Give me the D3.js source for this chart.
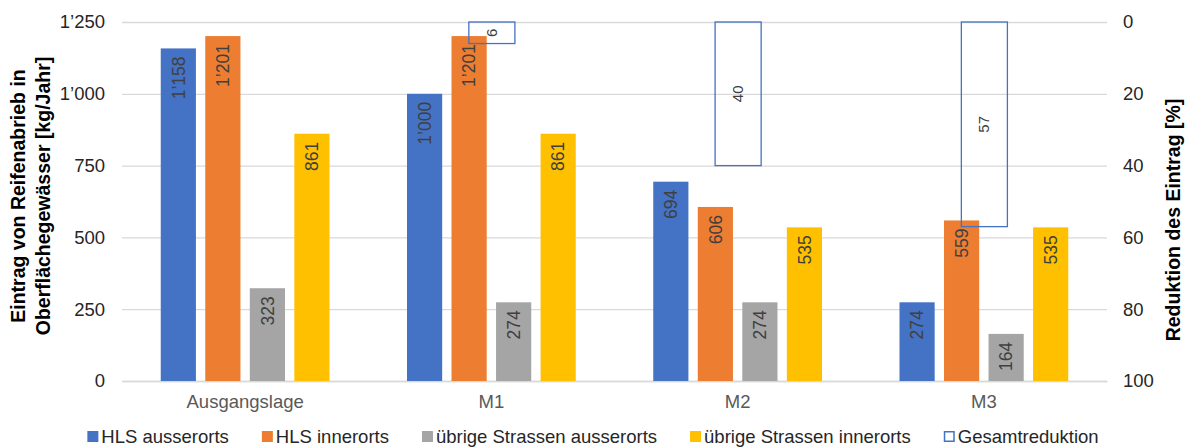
<!DOCTYPE html>
<html>
<head>
<meta charset="utf-8">
<script src="https://cdn.jsdelivr.net/npm/d3@7"></script>
<style>
  html, body { margin: 0; padding: 0; background: #fff; }
  svg { display: block; font-family: Arial, "Liberation Sans", sans-serif; }
</style>
</head>
<body>
<svg id="chart" width="1186" height="447"></svg>
<script>
// Massnahmen / scenarios
const categories = ["Ausgangslage", "M1", "M2", "M3"];
// Road categories (bar series)
const seriesNames = ["HLS ausserorts", "HLS innerorts", "übrige Strassen ausserorts", "übrige Strassen innerorts"];
const hlsAusserorts = [1158, 1000, 694, 274];
const hlsInnerorts = [1201, 1201, 606, 559];
const uebrigeAusserorts = [323, 274, 274, 164];
const uebrigeInnerorts = [861, 861, 535, 535];
// Total reduction in percent (right axis), none for the baseline
const gesamtreduktion = [null, 6, 40, 57];
const reductionLabel = "Gesamtreduktion";
// Axis ticks
const leftTicks = [0, 250, 500, 750, 1000, 1250];
const rightTicks = [0, 20, 40, 60, 80, 100];

const seriesValues = [hlsAusserorts, hlsInnerorts, uebrigeAusserorts, uebrigeInnerorts];
const colors = ["#4472C4", "#ED7D31", "#A5A5A5", "#FFC000"];
const reductionColor = "#4472C4";

const svg = d3.select("#chart");
const plot = { left: 122, right: 1107, top: 22, bottom: 381 };

const swiss = d3.formatLocale({ decimal: ".", thousands: "’", grouping: [3], currency: ["", ""] });
const fmt = swiss.format(",d");

const x0 = d3.scaleBand().domain(categories).range([plot.left, plot.right]).paddingInner(0).paddingOuter(0);
const x1 = d3.scaleBand().domain(d3.range(seriesNames.length)).range([0, x0.bandwidth()])
  .paddingInner(0.21).paddingOuter(0.87);
const xR = d3.scaleBand().domain(categories).range([plot.left, plot.right])
  .paddingInner(0.813).paddingOuter(0.4065);
const yL = d3.scaleLinear().domain([0, 1250]).range([plot.bottom, plot.top]);
const yR = d3.scaleLinear().domain([0, 100]).range([plot.top, plot.bottom]);

// Gridlines
svg.append("g")
  .attr("transform", `translate(${plot.left},0)`)
  .call(d3.axisLeft(yL).tickValues(leftTicks).tickSize(-(plot.right - plot.left)).tickFormat(""))
  .call(g => g.select(".domain").remove())
  .call(g => g.selectAll("line").attr("stroke", "#d9d9d9").attr("stroke-width", 1.3));

// Left axis labels
svg.append("g")
  .attr("transform", `translate(${plot.left},0)`)
  .call(d3.axisLeft(yL).tickValues(leftTicks).tickSize(0).tickPadding(17).tickFormat(fmt))
  .call(g => g.select(".domain").remove())
  .call(g => g.selectAll("text").attr("font-size", 18.5).attr("fill", "#262626")
    .attr("font-family", "Arial, 'Liberation Sans', sans-serif"));

// Right axis labels
svg.append("g")
  .attr("transform", `translate(${plot.right},0)`)
  .call(d3.axisRight(yR).tickValues(rightTicks).tickSize(0).tickPadding(16).tickFormat(d3.format("d")))
  .call(g => g.select(".domain").remove())
  .call(g => g.selectAll("text").attr("font-size", 18.5).attr("fill", "#262626")
    .attr("font-family", "Arial, 'Liberation Sans', sans-serif"));

// Category labels
svg.append("g")
  .attr("transform", `translate(0,${plot.bottom})`)
  .call(d3.axisBottom(x0).tickSize(0).tickPadding(14))
  .call(g => g.select(".domain").attr("stroke", "#d9d9d9").attr("stroke-width", 1.3))
  .call(g => g.selectAll("text").attr("font-size", 18.5).attr("fill", "#595959")
    .attr("font-family", "Arial, 'Liberation Sans', sans-serif"));

// Bars
const rows = categories.map((c, i) => ({ cat: c, values: seriesValues.map((s, k) => ({ k, v: s[i] })) }));
const groups = svg.append("g").selectAll("g").data(rows).join("g")
  .attr("transform", d => `translate(${x0(d.cat)},0)`);
groups.selectAll("rect").data(d => d.values).join("rect")
  .attr("x", d => x1(d.k))
  .attr("y", d => yL(d.v))
  .attr("width", x1.bandwidth())
  .attr("height", d => yL(0) - yL(d.v))
  .attr("fill", d => colors[d.k]);
groups.selectAll("text").data(d => d.values).join("text")
  .attr("transform", d => `translate(${x1(d.k) + x1.bandwidth() / 2},${yL(d.v) + 8}) rotate(-90)`)
  .attr("text-anchor", "end")
  .attr("dy", "0.36em")
  .attr("font-size", 17.5)
  .attr("fill", "#404040")
  .text(d => fmt(d.v));

// Total reduction (hollow bars hanging from the right axis zero)
const red = categories.map((c, i) => ({ cat: c, v: gesamtreduktion[i] })).filter(d => d.v != null);
svg.append("g").selectAll("rect").data(red).join("rect")
  .attr("x", d => xR(d.cat) + 0.5)
  .attr("y", yR(0))
  .attr("width", xR.bandwidth())
  .attr("height", d => yR(d.v) - yR(0))
  .attr("fill", "none")
  .attr("stroke", reductionColor)
  .attr("stroke-width", 1.3);
svg.append("g").selectAll("text").data(red).join("text")
  .attr("transform", d => `translate(${xR(d.cat) + xR.bandwidth() / 2},${(yR(0) + yR(d.v)) / 2}) rotate(-90)`)
  .attr("text-anchor", "middle")
  .attr("dy", "0.36em")
  .attr("font-size", 15)
  .attr("fill", "#404040")
  .text(d => d.v);

// Axis titles
const leftTitle = svg.append("text")
  .attr("transform", `translate(18,196) rotate(-90)`)
  .attr("text-anchor", "middle")
  .attr("font-size", 19.5).attr("font-weight", "bold").attr("fill", "#000");
leftTitle.append("tspan").attr("x", 0).attr("dy", "0.36em").text("Eintrag von Reifenabrieb in");
leftTitle.append("tspan").attr("x", 0).attr("dy", 25).text("Oberflächegewässer [kg/Jahr]");

svg.append("text")
  .attr("transform", `translate(1173,220) rotate(-90)`)
  .attr("text-anchor", "middle")
  .attr("dy", "0.36em")
  .attr("font-size", 19.5).attr("font-weight", "bold").attr("fill", "#000")
  .text("Reduktion des Eintrag [%]");

// Legend
const legendItems = seriesNames.map((n, k) => ({ name: n, color: colors[k], hollow: false }))
  .concat([{ name: reductionLabel, color: reductionColor, hollow: true }]);
const legend = svg.append("g");
const legendGap = 33;
let lx = 0;
legendItems.forEach(item => {
  const g = legend.append("g").attr("transform", `translate(${lx},0)`);
  if (item.hollow) {
    g.append("rect").attr("x", 0.75).attr("y", -4.75).attr("width", 9.5).attr("height", 9.5)
      .attr("fill", "none").attr("stroke", item.color).attr("stroke-width", 1.5);
  } else {
    g.append("rect").attr("x", 0).attr("y", -5.5).attr("width", 11).attr("height", 11).attr("fill", item.color);
  }
  const t = g.append("text").attr("x", 14).attr("dy", "0.34em")
    .attr("font-size", 18.5).attr("fill", "#262626").text(item.name);
  lx += 14 + t.node().getComputedTextLength() + legendGap;
});
const legendWidth = lx - legendGap;
legend.attr("transform", `translate(${(1186 - legendWidth) / 2},436.5)`);
</script>
</body>
</html>
